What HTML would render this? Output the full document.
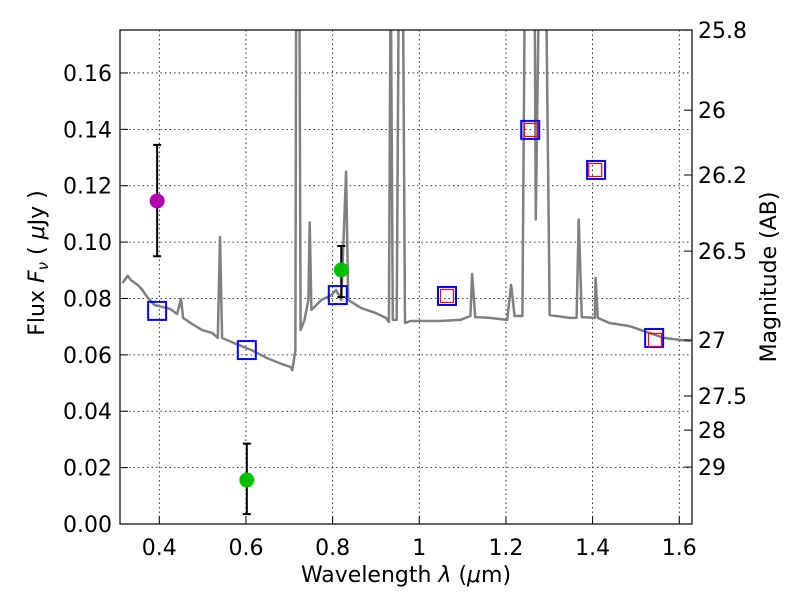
<!DOCTYPE html>
<html><head><meta charset="utf-8"><style>
body{margin:0;background:#fff}
svg text{font-family:"DejaVu Sans","Liberation Sans",sans-serif;fill:#000}
</style></head><body>
<svg id="chart" width="800" height="600" xmlns="http://www.w3.org/2000/svg">
<defs><clipPath id="clip"><rect x="120" y="30" width="572" height="494"/></clipPath></defs>
<rect width="800" height="600" fill="#fff"/>
<g id="grid"></g>
<g id="spec" clip-path="url(#clip)"></g>
<g id="marks"></g>
<rect x="120" y="30" width="572" height="494" fill="none" stroke="#000" stroke-width="1.2"/>
<g id="axes"></g>
<text x="406" y="582" font-size="22" text-anchor="middle">Wavelength  <tspan font-style="italic">λ</tspan> (<tspan font-style="italic">μ</tspan>m)</text>
<text transform="translate(44,263) rotate(-90)" font-size="22" text-anchor="middle">Flux  <tspan font-style="italic">F</tspan><tspan font-style="italic" font-size="15" dy="4">ν</tspan><tspan dy="-4">  ( </tspan><tspan font-style="italic">μ</tspan>Jy )</text>
<text transform="translate(776,277) rotate(-90)" font-size="22" text-anchor="middle">Magnitude (AB)</text>
</svg>
<script>
const specLam=[0.315,0.327,0.334,0.350,0.361,0.372,0.389,0.407,0.425,0.441,0.450,0.455,0.476,0.499,0.522,0.535,0.540,0.545,0.572,0.613,0.648,0.682,0.703,0.707,0.714,0.716,0.723,0.726,0.735,0.744,0.747,0.751,0.774,0.797,0.808,0.820,0.831,0.836,0.866,0.900,0.923,0.930,0.934,0.939,0.948,0.953,0.962,0.967,0.980,1.049,1.095,1.118,1.122,1.129,1.164,1.203,1.212,1.220,1.238,1.244,1.266,1.269,1.277,1.292,1.301,1.347,1.363,1.368,1.375,1.405,1.407,1.412,1.439,1.485,1.531,1.565,1.600,1.627];
const specFlux=[0.0855,0.0880,0.0866,0.0848,0.0830,0.0805,0.0777,0.0770,0.0763,0.0745,0.0798,0.0731,0.0709,0.0688,0.0678,0.0660,0.1018,0.0660,0.0642,0.0617,0.0589,0.0568,0.0557,0.0546,0.0617,0.2,0.2,0.0688,0.0724,0.0795,0.107,0.0759,0.0795,0.0812,0.0830,0.0795,0.125,0.0795,0.0766,0.0748,0.0731,0.0717,0.2,0.0724,0.0724,0.2,0.2,0.0713,0.0720,0.0720,0.0724,0.0738,0.0887,0.0734,0.0731,0.0724,0.0848,0.0738,0.0738,0.2,0.2,0.108,0.2,0.2,0.0741,0.0731,0.0731,0.108,0.0734,0.0731,0.0873,0.0731,0.0713,0.0702,0.0678,0.0660,0.0653,0.0649];
const modelLam=[0.395,0.602,0.812,1.064,1.256,1.408,1.542];
const modelFlux=[0.0756,0.0617,0.0812,0.0809,0.1398,0.1256,0.066];
const redLam=[1.064,1.258,1.406,1.544];
const redFlux=[0.0809,0.1398,0.1256,0.0653];
const obsLam=[0.395,0.820,0.602];
const obsFlux=[0.1146,0.0901,0.0156];
const obsLo=[0.095,0.0805,0.0035];
const obsHi=[0.1345,0.0986,0.0285];
const obsColor=["#b000b0","#00c000","#00c000"];
const xTicks=[0.4,0.6,0.8,1.0,1.2,1.4,1.6];
const xTickLabels=["0.4","0.6","0.8","1","1.2","1.4","1.6"];
const yTicks=[0,0.02,0.04,0.06,0.08,0.10,0.12,0.14,0.16];
const yTickLabels=["0.00","0.02","0.04","0.06","0.08","0.10","0.12","0.14","0.16"];
const magLabels=["25.8","26","26.2","26.5","27","27.5","28","29"];
const magFlux=[0.1752,0.1468,0.1238,0.0968,0.0653,0.0454,0.0333,0.0202];

const X=l=>159.3+(l-0.4)*433.3;
const Y=f=>524-f*2819;
const NS="http://www.w3.org/2000/svg";
function mk(tag,attrs,parent){const e=document.createElementNS(NS,tag);for(const k in attrs)e.setAttribute(k,attrs[k]);document.getElementById(parent).appendChild(e);return e;}

xTicks.forEach((t,i)=>{
  const g=mk('line',{x1:X(t),x2:X(t),y1:30,y2:524,stroke:'#000','stroke-dasharray':'1.5,3','stroke-width':0.8},'grid');
  
  
  const tk=mk('line',{x1:X(t),x2:X(t),y1:524,y2:516,stroke:'#000'},'axes');
  
  
  const tx=mk('text',{x:X(t),y:555,'font-size':22,'text-anchor':'middle'},'axes');
  tx.textContent=xTickLabels[i];
  
  
});
yTicks.forEach((t,i)=>{
  const g=mk('line',{x1:120,x2:692,y1:Y(t),y2:Y(t),stroke:'#000','stroke-dasharray':'1.5,3','stroke-width':0.8},'grid');
  
  
  const tk=mk('line',{x1:120,x2:128,y1:Y(t),y2:Y(t),stroke:'#000'},'axes');
  
  
  const tx=mk('text',{x:112,y:Y(t)+8,'font-size':22,'text-anchor':'end'},'axes');
  tx.textContent=yTickLabels[i];
  
  
});
magFlux.forEach((f,i)=>{
  const tk=mk('line',{x1:684,x2:692,y1:Y(f),y2:Y(f),stroke:'#000'},'axes');
  
  
  const tx=mk('text',{x:698,y:Y(f)+8,'font-size':22},'axes');
  tx.textContent=magLabels[i];
  
  
});
const pts=specLam.map((l,i)=>X(l).toFixed(1)+','+Y(specFlux[i]).toFixed(1)).join(' ');
const sp=mk('polyline',{points:pts,fill:'none',stroke:'#808080','stroke-width':2.5,'stroke-linejoin':'round'},'spec');


modelLam.forEach((l,i)=>{
  const r=mk('rect',{x:X(l)-9,y:Y(modelFlux[i])-9,width:18,height:18,fill:'none',stroke:'#0000ff','stroke-width':2},'marks');
  
  
});
redLam.forEach((l,i)=>{
  const r=mk('rect',{x:X(l)-6.5,y:Y(redFlux[i])-6.5,width:13,height:13,fill:'none',stroke:'#ff0000','stroke-width':1.2},'marks');
  
  
});
obsLam.forEach((l,i)=>{
  const x=X(l);
  const e=mk('path',{d:`M${x},${Y(obsLo[i])}V${Y(obsHi[i])}M${x-4},${Y(obsLo[i])}h8M${x-4},${Y(obsHi[i])}h8`,stroke:'#000','stroke-width':2,fill:'none'},'marks');
  
  
  const c=mk('circle',{cx:x,cy:Y(obsFlux[i]),r:7.5,fill:obsColor[i]},'marks');
  
  
});
</script>
</body></html>
